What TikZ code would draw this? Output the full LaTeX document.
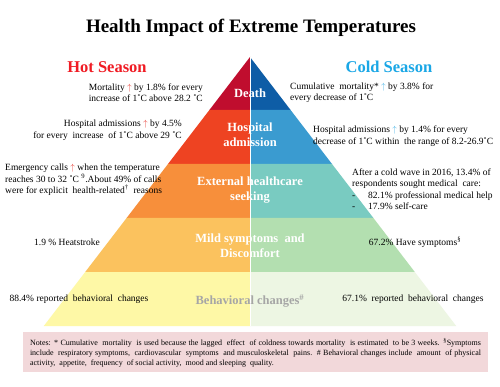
\documentclass[tikz,border=0pt]{standalone}
\usepackage{fontspec}
\setmainfont{Liberation Serif}
\usetikzlibrary{calc}
\definecolor{dL}{HTML}{C00D2E}\definecolor{dR}{HTML}{0E5DA6}
\definecolor{hL}{HTML}{EE4322}\definecolor{hR}{HTML}{3A9BD0}
\definecolor{eL}{HTML}{F78F3B}\definecolor{eR}{HTML}{79CBC1}
\definecolor{mL}{HTML}{FBC25E}\definecolor{mR}{HTML}{B3DFB0}
\definecolor{bL}{HTML}{FEF8A6}\definecolor{bR}{HTML}{EDF6E3}
\definecolor{hotred}{HTML}{F01C24}\definecolor{coldblue}{HTML}{1AA7E6}
\definecolor{uparL}{HTML}{E8423A}\definecolor{uparR}{HTML}{4DB6E8}
\definecolor{notefill}{HTML}{F2D8DA}\definecolor{behgrey}{HTML}{A6A6A6}
\newcommand{\upL}{{\color{uparL}$\uparrow$}}
\newcommand{\upR}{{\color{uparR}$\uparrow$}}
\begin{document}
\begin{tikzpicture}[x=1pt,y=-1pt,
  bodytxt/.style={inner sep=0pt,font=\fontsize{9.5}{11.5}\selectfont},
  pyrlbl/.style={inner sep=0pt,align=center,text=white,font=\fontsize{12.5}{15}\selectfont\bfseries},
  season/.style={inner sep=0pt,font=\fontsize{16.5}{20}\selectfont\bfseries}]
\useasboundingbox (0,0) rectangle (500,387);
\fill[white] (0,0) rectangle (500,387);
% pyramid halves
\fill[dL] (250,57) -- (209.4,110) -- (250,110) -- cycle;
\fill[dR] (250,57) -- (290.6,110) -- (250,110) -- cycle;
\fill[hL] (209.4,110) -- (168,164) -- (250,164) -- (250,110) -- cycle;
\fill[hR] (290.6,110) -- (332,164) -- (250,164) -- (250,110) -- cycle;
\fill[eL] (168,164) -- (126.6,218) -- (250,218) -- (250,164) -- cycle;
\fill[eR] (332,164) -- (373.4,218) -- (250,218) -- (250,164) -- cycle;
\fill[mL] (126.6,218) -- (85.2,272) -- (250,272) -- (250,218) -- cycle;
\fill[mR] (373.4,218) -- (414.8,272) -- (250,272) -- (250,218) -- cycle;
\fill[bL] (85.2,272) -- (43.8,326) -- (250,326) -- (250,272) -- cycle;
\fill[bR] (414.8,272) -- (456.2,326) -- (250,326) -- (250,272) -- cycle;
\draw[white,line width=0.6pt] (250,57) -- (250,326);
% title
\node[inner sep=0pt,font=\fontsize{19}{23}\selectfont\bfseries] (title) at (251,28) {Health Impact of Extreme Temperatures};
\node[season,text=hotred] (hot) at (107,67) {Hot Season};
\node[season,text=coldblue] (cold) at (389,67) {Cold Season};
% pyramid labels
\node[pyrlbl] (death) at (250,93) {Death};
\node[pyrlbl] (hosp) at (250,135) {Hospital\\admission};
\node[pyrlbl] (ext) at (250,190) {External healthcare\\seeking};
\node[pyrlbl] (mild) at (250,246) {Mild symptoms\ \ and\\Discomfort};
\node[pyrlbl,text=behgrey] (beh) at (250,301) {Behavioral changes\textsuperscript{\#}};
% left texts
\node[bodytxt,anchor=east,align=right] (l1) at (203,92.5) {Mortality \upL\ by 1.8\% for every\\increase of 1˚C above 28.2 ˚C};
\node[bodytxt,anchor=east,align=right] (l2) at (182,130) {Hospital admissions \upL\ by 4.5\%\\for every\ \ increase\ \ of 1˚C above 29 ˚C};
\node[bodytxt,anchor=west,align=left] (l3) at (5,180) {Emergency calls \upL\ when the temperature\\reaches 30 to 32 ˚C \textsuperscript{9}.About 49\% of calls\\were for explicit\ \ health-related\textsuperscript{†}\ \ reasons};
\node[bodytxt] (l4) at (67,242) {1.9 \% Heatstroke};
\node[bodytxt] (l5) at (79,299) {88.4\% reported\ \ behavioral\ \ changes};
% right texts
\node[bodytxt,anchor=west,align=left] (r1) at (290,92.5) {Cumulative\ \ mortality* \upR\ by 3.8\% for\\every decrease of 1˚C};
\node[bodytxt,anchor=west,align=left] (r2) at (313,136) {Hospital admissions \upR\ by 1.4\% for every\\decrease of 1˚C within\ \ the range of 8.2-26.9˚C};
\node[bodytxt,anchor=west,align=left] (r3) at (352,189) {After a cold wave in 2016, 13.4\% of\\respondents sought medical\ \ care:\\\makebox[16pt][l]{-}82.1\% professional medical help\\\makebox[16pt][l]{-}17.9\% self-care};
\node[bodytxt] (r4) at (415,242) {67.2\% Have symptoms\textsuperscript{§}};
\node[bodytxt] (r5) at (413,299) {67.1\%\ \ reported\ \ behavioral\ \ changes};
% notes
\fill[notefill] (23,332) rectangle (488,372);
\node[inner sep=0pt,text width=451pt,align=justify,font=\fontsize{8}{10}\selectfont] (notes) at (255.5,353) {Notes: * Cumulative\ \ mortality\ \ is used because the lagged\ \ effect\ \ of coldness towards mortality\ \ is estimated\ \ to be 3 weeks. \textsuperscript{§}Symptoms\linebreak include\ \ respiratory symptoms,\ \ cardiovascular\ \ symptoms\ \ and musculoskeletal\ \ pains.\ \ \# Behavioral changes include\ \ amount\ \ of physical\linebreak activity,\ \ appetite,\ \ frequency\ \ of social activity,\ \ mood and sleeping\ \ quality.};
\end{tikzpicture}
\end{document}
